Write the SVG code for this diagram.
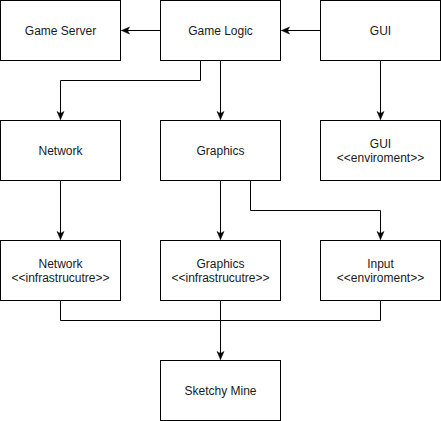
<svg xmlns="http://www.w3.org/2000/svg" width="441" height="421" viewBox="0 0 441 421">
<style>
.box{fill:#fff;stroke:#000;stroke-width:1}
.t{font-family:"Liberation Sans",Arial,sans-serif;font-size:12px;fill:#1a1a1a;text-anchor:middle}
.e{fill:none;stroke:#000;stroke-width:1}
</style>
<defs>
<marker id="a" markerUnits="userSpaceOnUse" markerWidth="10" markerHeight="10" viewBox="0 0 10 10" refX="9" refY="5" orient="auto">
<path d="M1,1.5 L9,5 L1,8.5 L3,5 Z" fill="#000" stroke="#000" stroke-width="0.5"/>
</marker>
</defs>
<rect width="441" height="421" fill="#fff"/>
<g id="connectors">
<path class="e" d="M160.5,30.5 H121.5" marker-end="url(#a)"/>
<path class="e" d="M320.5,30.5 H281.5" marker-end="url(#a)"/>
<path class="e" d="M200.5,60.5 V80.5 H60.5 V119.5" marker-end="url(#a)"/>
<path class="e" d="M220.5,60.5 V119.5" marker-end="url(#a)"/>
<path class="e" d="M380.5,60.5 V119.5" marker-end="url(#a)"/>
<path class="e" d="M60.5,180.5 V239.5" marker-end="url(#a)"/>
<path class="e" d="M220.5,180.5 V239.5" marker-end="url(#a)"/>
<path class="e" d="M250.5,180.5 V210.5 H380.5 V239.5" marker-end="url(#a)"/>
<path class="e" d="M60.5,300.5 V320.5 H380.5 V300.5"/>
<path class="e" d="M220.5,300.5 V359.5" marker-end="url(#a)"/>
</g>
<g id="game-server"><rect class="box" x="0.5" y="0.5" width="120" height="60"/><text class="t" x="60.5" y="34.5">Game Server</text></g>
<g id="game-logic"><rect class="box" x="160.5" y="0.5" width="120" height="60"/><text class="t" x="220.5" y="34.5">Game Logic</text></g>
<g id="gui"><rect class="box" x="320.5" y="0.5" width="120" height="60"/><text class="t" x="380.5" y="34.5">GUI</text></g>
<g id="network"><rect class="box" x="0.5" y="120.5" width="120" height="60"/><text class="t" x="60.5" y="154.5">Network</text></g>
<g id="graphics"><rect class="box" x="160.5" y="120.5" width="120" height="60"/><text class="t" x="220.5" y="154.5">Graphics</text></g>
<g id="gui-env"><rect class="box" x="320.5" y="120.5" width="120" height="60"/><text class="t" x="380.5" y="148">GUI</text><text class="t" x="380.5" y="162">&lt;&lt;enviroment&gt;&gt;</text></g>
<g id="network-infra"><rect class="box" x="0.5" y="240.5" width="120" height="60"/><text class="t" x="60.5" y="268">Network</text><text class="t" x="60.5" y="282">&lt;&lt;infrastrucutre&gt;&gt;</text></g>
<g id="graphics-infra"><rect class="box" x="160.5" y="240.5" width="120" height="60"/><text class="t" x="220.5" y="268">Graphics</text><text class="t" x="220.5" y="282">&lt;&lt;infrastrucutre&gt;&gt;</text></g>
<g id="input-env"><rect class="box" x="320.5" y="240.5" width="120" height="60"/><text class="t" x="380.5" y="268">Input</text><text class="t" x="380.5" y="282">&lt;&lt;enviroment&gt;&gt;</text></g>
<g id="sketchy-mine"><rect class="box" x="160.5" y="360.5" width="120" height="60"/><text class="t" x="220.5" y="394.5">Sketchy Mine</text></g>
</svg>
